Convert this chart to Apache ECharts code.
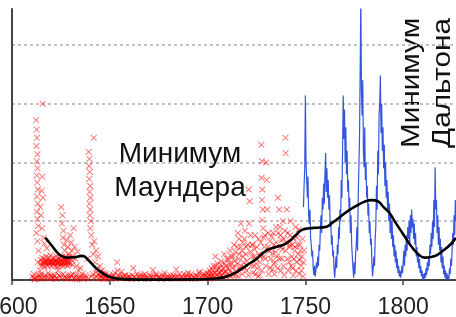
<!DOCTYPE html>
<html>
<head>
<meta charset="utf-8">
<title>Минимум Маундера</title>
<script src="https://cdn.jsdelivr.net/npm/echarts@6.0.0/dist/echarts.min.js"></script>
<style>
  html, body { margin: 0; padding: 0; background: #fff; }
  #main { width: 456px; height: 317px; }
</style>
</head>
<body>
<div id="main"></div>
<script>
// подписи оси X
const yearTicks = [1600, 1650, 1700, 1750, 1800]

// отдельные наблюдения групп пятен (красные крестики), [год, число]
const groupObs = [
  [1611, 2], [1611.5, 0.5], [1612, 1], [1612.4, 136], [1612.6, 128], [1612.8, 121], [1612.5, 114], [1613, 107],
  [1612.7, 101], [1613.1, 95], [1612.6, 89], [1612.9, 83], [1613.2, 77], [1612.8, 71], [1613.1, 65], [1612.7, 58],
  [1613, 52], [1613.4, 46], [1612.5, 40], [1613, 33], [1613.5, 25], [1613.2, 15], [1613.8, 3], [1614.3, 8],
  [1614.5, 62], [1614.8, 55], [1615.2, 76], [1615.6, 150], [1615.5, 88], [1615.8, 70], [1615.5, 44], [1616.2, 36],
  [1616.6, 31], [1616, 15], [1616.5, 2], [1617, 15], [1617.5, 15], [1618, 15], [1617.8, 27], [1618.5, 6],
  [1619, 15], [1619.5, 15], [1619.6, 3],
  [1620, 15], [1620.5, 15], [1621, 15], [1621.5, 14], [1622, 15], [1622.5, 16], [1623, 15], [1623.5, 15],
  [1624, 15], [1624.5, 14], [1625, 16], [1625.5, 15], [1626, 15], [1626.5, 14], [1627, 15], [1627.5, 16],
  [1628, 15], [1628.5, 15], [1629, 14],
  [1620.5, 2], [1621.5, 4], [1622.5, 1], [1623.5, 8], [1624.5, 3], [1625.2, 62], [1625.8, 55], [1625.5, 48],
  [1626.3, 42], [1626, 36], [1626.6, 30], [1627, 25], [1627.4, 20], [1628, 34], [1628.6, 28], [1629.2, 22],
  [1629.8, 38], [1630.3, 32], [1630.6, 25], [1631, 20], [1631.5, 44], [1632, 28], [1632.4, 18], [1633, 12],
  [1633.5, 24], [1634, 8], [1626.8, 2], [1628.4, 1], [1630, 4], [1631.8, 2], [1633.2, 0.5], [1634.5, 3], [1635, 10],
  [1636, 5], [1637, 2], [1638.5, 18], [1639.2, 109], [1639.6, 103], [1639.4, 97], [1639.8, 92], [1639.5, 86],
  [1640, 80], [1639.7, 75], [1640.1, 70], [1639.6, 65], [1640, 60], [1639.8, 55], [1640.3, 50], [1640, 44],
  [1640.5, 38], [1641.8, 121], [1641, 30], [1641.5, 22], [1642, 33], [1642.5, 15], [1643, 25], [1643.6, 10],
  [1644, 20], [1644.5, 5], [1645, 12], [1645.5, 2], [1646, 8], [1646.5, 1], [1647, 4], [1647.5, 1],
  [1648, 5], [1649, 2], [1650, 3], [1650.5, 1],
  [1651, 2], [1652, 4], [1653, 1], [1653.8, 15], [1655, 3], [1656, 7], [1657, 2], [1658, 4], [1659, 1],
  [1660, 3], [1661, 1], [1662, 10], [1663, 2], [1664, 5], [1665, 3], [1666, 1], [1667, 4], [1668, 5],
  [1669, 2], [1670, 1], [1671, 3], [1672, 8.5], [1673, 2], [1674, 4], [1675, 2], [1676, 1], [1677, 3],
  [1678, 6], [1679, 2], [1680, 1], [1681, 4], [1682, 2], [1683, 3], [1684, 9], [1685, 2], [1686, 1],
  [1687, 3], [1688, 5], [1689, 2], [1690, 6], [1691, 3], [1692, 1], [1693, 2], [1694, 4], [1695, 3],
  [1696, 7], [1697, 2], [1698, 5], [1699, 4], [1700, 3],
  [1700.5, 6], [1701, 8], [1701.5, 3], [1702, 10], [1702.5, 5], [1703, 12], [1703.5, 4], [1704, 20],
  [1704.5, 8], [1705, 14], [1705.5, 3], [1706, 10], [1706.5, 6], [1707, 16], [1707.5, 4], [1708, 10],
  [1708.5, 22], [1709, 7], [1709.5, 12], [1710, 5], [1710.5, 18], [1711, 9], [1711.5, 25], [1712, 14],
  [1712.5, 6], [1713, 20], [1713.5, 30], [1714, 12], [1714.5, 4], [1715, 28], [1715.5, 40], [1715.8, 18],
  [1716, 35], [1716.5, 10], [1717, 48], [1717.5, 25], [1718, 32], [1718.5, 15], [1719, 42], [1719.5, 22],
  [1720, 8], [1720.5, 30], [1721, 77], [1721.5, 67], [1721.2, 48], [1722, 38], [1722.5, 20], [1723, 30],
  [1723.5, 12], [1724, 26], [1724.5, 5], [1725, 18], [1725.5, 10], [1726, 35], [1726.5, 4], [1727, 20],
  [1727.5, 115], [1727.8, 101], [1727.6, 87], [1728, 77], [1727.8, 68], [1728.2, 60], [1728, 51], [1728.4, 44],
  [1728.6, 36], [1729, 28], [1729.5, 18], [1730, 100], [1730.2, 85], [1730.5, 60], [1731, 40], [1731.5, 25],
  [1732, 10], [1732.8, 37], [1733, 22], [1733.2, 9], [1734, 30], [1734.5, 15], [1735, 45], [1735.5, 20],
  [1736, 70], [1736.6, 60], [1737, 45], [1737.2, 38], [1737.6, 28], [1738, 18], [1738.5, 50], [1739, 35],
  [1739.8, 121], [1739.9, 108], [1740, 25], [1740.5, 60], [1741, 40], [1741.5, 15], [1742, 30], [1742.5, 50],
  [1743, 20], [1743.5, 10], [1744, 35], [1744.5, 25], [1745, 45], [1745.5, 15], [1746, 30], [1746.5, 43],
  [1747, 17], [1747.5, 25], [1748, 8], [1748.5, 35], [1749, 15]
]

// плотная полоса около 15 в 1615–1631 годах
const bandObs = [
  [1614.6, 14], [1614.9, 17], [1615.1, 12], [1615.4, 19], [1615.7, 15], [1616.1, 13], [1616.4, 18], [1616.7, 11],
  [1617.2, 16], [1617.4, 20], [1617.7, 13], [1618.2, 17], [1618.4, 12], [1618.7, 19], [1619.2, 14], [1619.4, 16],
  [1619.7, 21], [1620.2, 12], [1620.4, 18], [1620.7, 15], [1621.2, 13], [1621.4, 19], [1621.7, 16], [1622.2, 12],
  [1622.4, 17], [1622.7, 20], [1623.2, 14], [1623.4, 11], [1623.7, 18], [1624.2, 15], [1624.4, 19], [1624.7, 12],
  [1625.2, 17], [1625.4, 14], [1625.7, 20], [1626.2, 12], [1626.4, 16], [1626.7, 18], [1627.2, 13], [1627.7, 19],
  [1628.2, 16], [1628.4, 12], [1628.7, 18], [1629.2, 15], [1629.5, 20], [1630, 14], [1630.5, 17], [1631, 13]
]

// наблюдения у самой оси (почти нулевые значения)
const lowObs = [
  [1610.5, 3], [1611.2, 5], [1612.2, 2], [1613.5, 4], [1614, 1], [1614.7, 3], [1615, 5], [1615.3, 1],
  [1616.8, 4], [1617.3, 2], [1618.2, 3], [1619.2, 1], [1620.2, 4], [1621, 2], [1622, 3], [1623, 1],
  [1624, 4], [1625, 2], [1626.2, 5], [1627.2, 3], [1627.7, 1], [1628.8, 4], [1629.5, 2], [1630.4, 3],
  [1631.2, 5], [1632.2, 1], [1632.8, 4], [1633.8, 2], [1634.8, 1], [1635.5, 3], [1636.5, 1], [1637.5, 4],
  [1638, 2], [1639, 1], [1640.6, 3], [1641.4, 5], [1642.2, 2], [1642.8, 6], [1643.3, 3], [1644.2, 1],
  [1644.8, 4], [1645.2, 7], [1645.8, 3], [1646.2, 5], [1646.8, 2], [1647.2, 6], [1647.8, 3], [1648.5, 2], [1649.5, 4],
  [1651.5, 3], [1652.5, 6], [1653.5, 2], [1654, 8], [1654.5, 4], [1655.5, 2], [1656.5, 3], [1657.5, 4],
  [1658.5, 2], [1659.5, 3], [1660.5, 2], [1661.5, 4], [1662.5, 3], [1663.5, 1], [1664.5, 2], [1665.5, 4],
  [1666.5, 3], [1667.5, 2], [1668.5, 3], [1669.5, 1], [1670.5, 4], [1671.5, 2], [1672.5, 3], [1673.5, 5],
  [1674.5, 2], [1675.5, 3], [1676.5, 1], [1677.5, 4], [1678.5, 2], [1679.5, 3], [1680.5, 2], [1681.5, 1],
  [1682.5, 4], [1683.5, 2], [1684.5, 3], [1685.5, 5], [1686.5, 2], [1687.5, 1], [1688.5, 3], [1689.5, 4],
  [1690.5, 2], [1691.5, 5], [1692.5, 3], [1693.5, 1], [1694.5, 3], [1695.5, 6], [1696.5, 2], [1697.5, 4],
  [1698.5, 3], [1699.5, 6],
  [1700.2, 2], [1700.8, 4], [1701.2, 1], [1701.8, 6], [1702.2, 3], [1702.8, 8], [1703.2, 2], [1703.8, 6],
  [1704.2, 12], [1704.8, 4], [1705.2, 9], [1705.8, 6], [1706.2, 3], [1706.8, 13], [1707.2, 8], [1707.8, 2],
  [1708.2, 6], [1708.8, 14], [1709.2, 3], [1709.8, 18], [1710.2, 10], [1710.8, 5], [1711.2, 14], [1711.8, 3],
  [1712.2, 20], [1712.8, 10], [1713.2, 4], [1713.8, 16], [1714.2, 24], [1714.8, 8], [1715.2, 14], [1715.6, 3],
  [1716.2, 22], [1716.8, 28], [1717.2, 12], [1717.8, 5], [1718.2, 20], [1718.8, 35], [1719.2, 10], [1719.8, 28],
  [1720.2, 16], [1720.8, 4], [1721.8, 24], [1722.2, 12], [1722.8, 30], [1723.2, 6], [1723.8, 20], [1724.2, 38],
  [1724.8, 14], [1725.2, 28], [1725.8, 3], [1726.2, 22], [1726.8, 15], [1727.2, 32], [1727.8, 8], [1728.8, 20],
  [1729.2, 38], [1729.8, 12], [1730.8, 28], [1731.2, 5], [1731.8, 33], [1732.2, 18], [1732.5, 26], [1733.5, 40],
  [1733.8, 14], [1734.2, 5], [1734.8, 24], [1735.2, 32], [1735.8, 10], [1736.2, 40], [1736.8, 18], [1737.4, 8],
  [1737.8, 34], [1738.2, 26], [1738.8, 12], [1739.2, 4], [1739.5, 42], [1740.2, 32], [1740.8, 18], [1741.2, 8],
  [1741.8, 28], [1742.2, 38], [1742.8, 12], [1743.2, 30], [1743.8, 4], [1744.2, 18], [1744.8, 28], [1745.2, 8],
  [1745.8, 36], [1746.2, 22], [1746.8, 5], [1747.2, 30], [1747.8, 12], [1748.2, 20], [1748.8, 3], [1749.3, 25]
]

// наблюдения с 1749 года (синяя линия), три значения на год
const dailyStart = 1749
const dailyStep = 1 / 3
const dailyValues = [
  62, 80, 95, 157, 100, 85, 70, 88, 55, 48, 60, 35, 30, 20, 25, 10, 4, 12,
  3, 8, 15, 10, 20, 12, 30, 25, 45, 55, 40, 70, 60, 82, 65, 90, 108, 75,
  95, 70, 85, 60, 72, 45, 50, 30, 38, 20, 25, 8, 2, 12, 20, 10, 30, 22,
  45, 35, 60, 50, 85, 70, 110, 157, 120, 145, 100, 130, 90, 110, 75, 85, 60, 70,
  40, 55, 30, 20, 10, 2, 15, 5, 22, 30, 45, 25, 70, 95, 120, 177, 240, 160,
  140, 170, 110, 96, 130, 85, 100, 70, 80, 55, 65, 40, 50, 30, 35, 15, 3, 10,
  20, 12, 35, 45, 80, 60, 110, 90, 140, 150, 174, 125, 150, 110, 130, 95, 115, 80,
  100, 70, 85, 60, 75, 50, 65, 40, 55, 35, 50, 28, 38, 20, 30, 15, 25, 10,
  18, 6, 12, 3, 8, 2, 5, 12, 6, 15, 25, 12, 30, 20, 38, 25, 45, 35,
  50, 30, 55, 40, 60, 45, 52, 35, 48, 30, 40, 20, 28, 15, 22, 10, 18, 6,
  12, 3, 8, 0, 5, 1, 6, 2, 10, 4, 15, 8, 20, 12, 30, 22, 40, 28,
  50, 35, 68, 45, 96, 60, 68, 40, 55, 30, 45, 25, 35, 15, 28, 10, 20, 5,
  12, 2, 8, 0, 6, 1, 4, 0, 10, 5, 18, 12, 25, 40, 30, 55, 38, 68,
  50
]

// сглаженная кривая (чёрная)
const smoothYears = [1617, 1620, 1624, 1628, 1632, 1636, 1639, 1643, 1647, 1650, 1655, 1660, 1670, 1680, 1690,
  1700, 1705, 1710, 1715, 1720, 1725, 1730, 1735, 1740, 1745, 1748, 1752, 1756, 1760, 1764, 1768, 1772,
  1776, 1780, 1784, 1787, 1790, 1793, 1796, 1800, 1804, 1808, 1811, 1814, 1817, 1820, 1824, 1827]
const smoothValues = [36, 30, 22, 19, 19.5, 20.5, 17, 10, 5, 2.6, 1, 0.5, 0.3, 0.3, 0.5,
  0.8, 1.5, 3, 7, 12.5, 18, 25, 28, 31, 38, 42.5, 44, 44.5, 45, 49, 54, 59,
  63, 66.5, 68, 67, 62, 57, 49, 39, 29, 21.5, 19, 19.5, 21, 24.5, 30, 36]

const chart = echarts.init(document.getElementById('main'))

// крестик как заливаемый путь
const crossPath = 'path://M0,1L1,0L5,4L9,0L10,1L6,5L10,9L9,10L5,6L1,10L0,9L4,5Z'

const dailyData = dailyValues.map((v, i) => [dailyStart + i * dailyStep, v])
const smoothData = smoothYears.map((y, i) => [y, smoothValues[i]])
const redData = groupObs.concat(bandObs, lowObs)

const textFont = '28px "Liberation Sans"'
const sideFont = '25px "Liberation Sans"'

const option = {
  animation: false,
  grid: { left: 12, right: 0, top: 9, bottom: 37, containLabel: false, outerBoundsMode: 'none' },
  xAxis: {
    type: 'value',
    min: 1600,
    max: 1827,
    interval: 50,
    axisLine: { lineStyle: { color: '#444', width: 2 } },
    axisTick: { show: true, length: 5, lineStyle: { color: '#444', width: 1.5 } },
    axisLabel: {
      showMaxLabel: false,
      margin: 16,
      fontSize: 23,
      fontFamily: 'Liberation Sans',
      color: '#222',
      formatter: (v) => (yearTicks.includes(v) ? String(v) : '')
    },
    splitLine: { show: false }
  },
  yAxis: {
    type: 'value',
    min: 0,
    max: 230.6,
    interval: 50,
    axisLine: { show: true, lineStyle: { color: '#444', width: 2 } },
    axisTick: { show: false },
    axisLabel: { show: false },
    splitLine: {
      show: true,
      showMaxLine: false,
      lineStyle: { color: '#c2c2c2', width: 2, type: [3, 3] }
    }
  },
  series: [
    {
      type: 'scatter',
      data: redData,
      symbol: crossPath,
      symbolSize: 6.5,
      itemStyle: { color: 'rgba(255, 0, 0, 0.7)' },
      z: 2
    },
    {
      type: 'line',
      data: dailyData,
      symbol: 'none',
      lineStyle: { color: '#3556dc', width: 1.2 },
      z: 3
    },
    {
      type: 'line',
      data: smoothData,
      smooth: true,
      symbol: 'none',
      lineStyle: { color: '#000', width: 2.6 },
      z: 4
    }
  ],
  graphic: [
    {
      type: 'text', x: 180, y: 154,
      style: { text: 'Минимум', font: textFont, fill: '#111', align: 'center', verticalAlign: 'middle' }
    },
    {
      type: 'text', x: 180, y: 188,
      style: { text: 'Маундера', font: textFont, fill: '#111', align: 'center', verticalAlign: 'middle' }
    },
    {
      type: 'text', x: 412, y: 83, rotation: Math.PI / 2, scaleX: 1.19,
      style: { text: 'Минимум', font: sideFont, fill: '#111', align: 'center', verticalAlign: 'middle' }
    },
    {
      type: 'text', x: 443, y: 83, rotation: Math.PI / 2, scaleX: 1.19,
      style: { text: 'Дальтона', font: sideFont, fill: '#111', align: 'center', verticalAlign: 'middle' }
    }
  ]
}
chart.setOption(option)
</script>
</body>
</html>
